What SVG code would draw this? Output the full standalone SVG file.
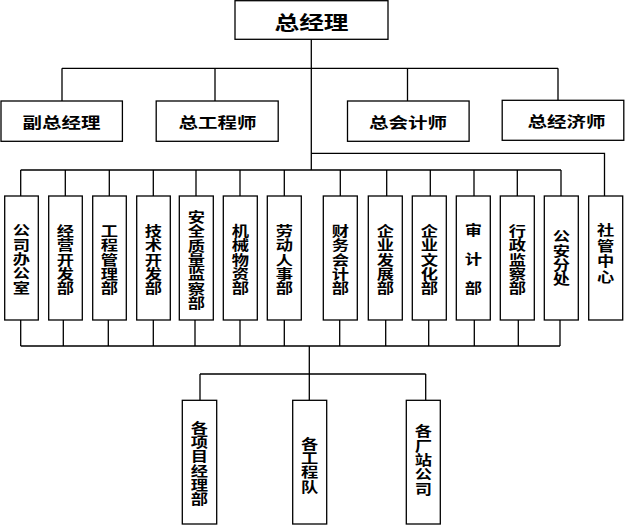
<svg xmlns="http://www.w3.org/2000/svg" width="625" height="525" viewBox="0 0 625 525">
<style>
.b{fill:#fff;stroke:#000;stroke-width:1.3}
.c{fill:none;stroke:#000;stroke-width:1.3}
text{font-family:"Noto Sans CJK SC","Noto Sans CJK TC",sans-serif;font-weight:bold;fill:#000;text-anchor:middle;dominant-baseline:central}
tspan{dominant-baseline:central}
.h1{font-size:19px}
.h2{font-size:15px}
.v{font-size:13.3px}
</style>
<rect width="625" height="525" fill="#fff"/>
<g id="connectors" class="c">
<path d="M311.3 39.3V170"/>
<path d="M62 68.3H558M62 68.3V101M215 68.3V101M407.5 68.3V101M558 68.3V100.3"/>
<path d="M311.3 153.3H604.5V196"/>
<path d="M20.7 170H561M20.7 170V196M65.3 170V196M109.3 170V196M153.3 170V196M196 170V196M240 170V196M284.3 170V196M340.3 170V196M386.7 170V196M430.3 170V196M474 170V196M517.3 170V196M561 170V196"/>
<path d="M20.7 346H560M20.7 320V346M63.3 320V346M108.3 320V346M153.3 320V346M195 320V346M240 320V346M284.3 320V346M339.7 320V346M385.7 320V346M428.7 320V346M474.3 320V346M518.3 320V346M560 320V346"/>
<path d="M309.3 346V400.3M200 374H425.7M200 374V400.3M425.7 374V400.3"/>
</g>
<g id="n_gm"><rect class="b" x="235" y="0.7" width="153" height="38.6"/><text class="h1" transform="translate(311.5 0) scale(1.3 1)" y="21">总经理</text></g>
<g id="n_fzjl"><rect class="b" x="1" y="101" width="121.4" height="40.3"/><text class="h2" transform="translate(61.5 0) scale(1.3 1)" y="121.5">副总经理</text></g>
<g id="n_zgcs"><rect class="b" x="156.2" y="101" width="122" height="40.3"/><text class="h2" transform="translate(217.5 0) scale(1.3 1)" y="121.5">总工程师</text></g>
<g id="n_zkjs"><rect class="b" x="347.5" y="101" width="121.6" height="40.3"/><text class="h2" transform="translate(408 0) scale(1.3 1)" y="121.5">总会计师</text></g>
<g id="n_zjjs"><rect class="b" x="502.2" y="100.3" width="121.6" height="40"/><text class="h2" transform="translate(566.5 0) scale(1.3 1)" y="121">总经济师</text></g>

<g id="d1"><rect class="b" x="4.7" y="196" width="33.6" height="124"/><text class="v" transform="translate(21.5 0) scale(1.3 1)"><tspan x="0" y="229.4">公</tspan><tspan x="0" y="243.7">司</tspan><tspan x="0" y="258">办</tspan><tspan x="0" y="272.3">公</tspan><tspan x="0" y="286.6">室</tspan></text></g>
<g id="d2"><rect class="b" x="48.7" y="196" width="33.6" height="124"/><text class="v" transform="translate(65.5 0) scale(1.3 1)"><tspan x="0" y="230">经</tspan><tspan x="0" y="244.3">营</tspan><tspan x="0" y="258.6">开</tspan><tspan x="0" y="272.9">发</tspan><tspan x="0" y="287.2">部</tspan></text></g>
<g id="d3"><rect class="b" x="92.7" y="196" width="33.6" height="124"/><text class="v" transform="translate(109.5 0) scale(1.3 1)"><tspan x="0" y="230">工</tspan><tspan x="0" y="244.3">程</tspan><tspan x="0" y="258.6">管</tspan><tspan x="0" y="272.9">理</tspan><tspan x="0" y="287.2">部</tspan></text></g>
<g id="d4"><rect class="b" x="136.7" y="196" width="33.6" height="124"/><text class="v" transform="translate(153.5 0) scale(1.3 1)"><tspan x="0" y="230">技</tspan><tspan x="0" y="244.3">术</tspan><tspan x="0" y="258.6">开</tspan><tspan x="0" y="272.9">发</tspan><tspan x="0" y="287.2">部</tspan></text></g>
<g id="d5"><rect class="b" x="179.3" y="196" width="34" height="124"/><text class="v" transform="translate(196.3 0) scale(1.3 1)"><tspan x="0" y="216.1">安</tspan><tspan x="0" y="230.4">全</tspan><tspan x="0" y="244.7">质</tspan><tspan x="0" y="259">量</tspan><tspan x="0" y="273.3">监</tspan><tspan x="0" y="287.6">察</tspan><tspan x="0" y="301.9">部</tspan></text></g>
<g id="d6"><rect class="b" x="223.3" y="196" width="34" height="124"/><text class="v" transform="translate(240.3 0) scale(1.3 1)"><tspan x="0" y="230">机</tspan><tspan x="0" y="244.3">械</tspan><tspan x="0" y="258.6">物</tspan><tspan x="0" y="272.9">资</tspan><tspan x="0" y="287.2">部</tspan></text></g>
<g id="d7"><rect class="b" x="267.3" y="196" width="34" height="124"/><text class="v" transform="translate(284.3 0) scale(1.3 1)"><tspan x="0" y="230">劳</tspan><tspan x="0" y="244.3">动</tspan><tspan x="0" y="258.6">人</tspan><tspan x="0" y="272.9">事</tspan><tspan x="0" y="287.2">部</tspan></text></g>
<g id="d8"><rect class="b" x="323.3" y="196" width="34" height="124"/><text class="v" transform="translate(340.3 0) scale(1.3 1)"><tspan x="0" y="230">财</tspan><tspan x="0" y="244.3">务</tspan><tspan x="0" y="258.6">会</tspan><tspan x="0" y="272.9">计</tspan><tspan x="0" y="287.2">部</tspan></text></g>
<g id="d9"><rect class="b" x="368.3" y="196" width="34" height="124"/><text class="v" transform="translate(385.3 0) scale(1.3 1)"><tspan x="0" y="230">企</tspan><tspan x="0" y="244.3">业</tspan><tspan x="0" y="258.6">发</tspan><tspan x="0" y="272.9">展</tspan><tspan x="0" y="287.2">部</tspan></text></g>
<g id="d10"><rect class="b" x="412.3" y="196" width="34" height="124"/><text class="v" transform="translate(429.3 0) scale(1.3 1)"><tspan x="0" y="230">企</tspan><tspan x="0" y="244.3">业</tspan><tspan x="0" y="258.6">文</tspan><tspan x="0" y="272.9">化</tspan><tspan x="0" y="287.2">部</tspan></text></g>
<g id="d11"><rect class="b" x="456.3" y="196" width="34" height="124"/><text class="v" transform="translate(473.3 0) scale(1.3 1)"><tspan x="0" y="229">审</tspan><tspan x="0" y="257.5">计</tspan><tspan x="0" y="287">部</tspan></text></g>
<g id="d12"><rect class="b" x="500.3" y="196" width="34" height="124"/><text class="v" transform="translate(517.3 0) scale(1.3 1)"><tspan x="0" y="230">行</tspan><tspan x="0" y="244.3">政</tspan><tspan x="0" y="258.6">监</tspan><tspan x="0" y="272.9">察</tspan><tspan x="0" y="287.2">部</tspan></text></g>
<g id="d13"><rect class="b" x="544.3" y="196" width="34" height="124"/><text class="v" transform="translate(561.3 0) scale(1.3 1)"><tspan x="0" y="235.2">公</tspan><tspan x="0" y="249.5">安</tspan><tspan x="0" y="263.8">分</tspan><tspan x="0" y="278.2">处</tspan></text></g>
<g id="d14"><rect class="b" x="588.7" y="196" width="34" height="124"/><text class="v" transform="translate(605.7 0) scale(1.3 1)"><tspan x="0" y="229.4">社</tspan><tspan x="0" y="244.8">管</tspan><tspan x="0" y="260.2">中</tspan><tspan x="0" y="275.6">心</tspan></text></g>

<g id="s1"><rect class="b" x="182.3" y="400.3" width="34.4" height="123.7"/><text class="v" transform="translate(199.5 0) scale(1.3 1)"><tspan x="0" y="426.8">各</tspan><tspan x="0" y="441.1">项</tspan><tspan x="0" y="455.4">目</tspan><tspan x="0" y="469.7">经</tspan><tspan x="0" y="484">理</tspan><tspan x="0" y="498.3">部</tspan></text></g>
<g id="s2"><rect class="b" x="292.7" y="400.3" width="34" height="123.7"/><text class="v" transform="translate(309.7 0) scale(1.3 1)"><tspan x="0" y="442.5">各</tspan><tspan x="0" y="456.8">工</tspan><tspan x="0" y="471.2">程</tspan><tspan x="0" y="485.5">队</tspan></text></g>
<g id="s3"><rect class="b" x="406.3" y="400.3" width="34" height="123.7"/><text class="v" transform="translate(423.3 0) scale(1.3 1)"><tspan x="0" y="430.4">各</tspan><tspan x="0" y="444.7">厂</tspan><tspan x="0" y="459">站</tspan><tspan x="0" y="473.3">公</tspan><tspan x="0" y="487.6">司</tspan></text></g>
</svg>
